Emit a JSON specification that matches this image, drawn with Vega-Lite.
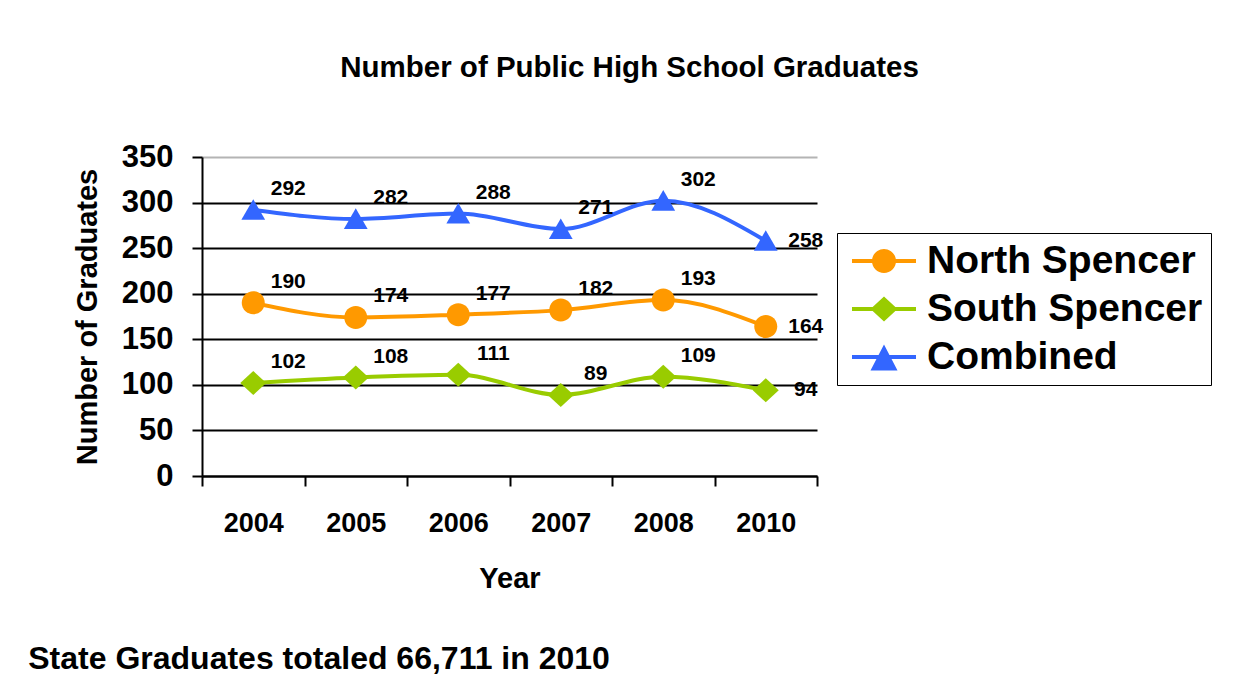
{
  "$schema": "https://vega.github.io/schema/vega-lite/v6.json",
  "padding": {"left": 28, "top": 52, "right": 0, "bottom": 0},
  "background": "white",
  "config": {"font": "Liberation Sans", "view": {"stroke": null}},
  "title": {"text": "State Graduates totaled 66,711 in 2010", "orient": "bottom", "anchor": "start", "frame": "bounds", "fontSize": 32, "fontWeight": "bold", "color": "black", "offset": 51, "dx": -45},
  "vconcat": [
    {
      "width": 615,
      "height": 319,
      "title": {"text": "Number of Public High School Graduates", "fontSize": 29.5, "fontWeight": "bold", "anchor": "middle", "frame": "group", "dx": 120, "offset": 58, "color": "black"},
      "data": {"values": [
        {"Year": "2004", "Series": "North Spencer", "Graduates": 190},
        {"Year": "2005", "Series": "North Spencer", "Graduates": 174},
        {"Year": "2006", "Series": "North Spencer", "Graduates": 177},
        {"Year": "2007", "Series": "North Spencer", "Graduates": 182},
        {"Year": "2008", "Series": "North Spencer", "Graduates": 193},
        {"Year": "2010", "Series": "North Spencer", "Graduates": 164},
        {"Year": "2004", "Series": "South Spencer", "Graduates": 102},
        {"Year": "2005", "Series": "South Spencer", "Graduates": 108},
        {"Year": "2006", "Series": "South Spencer", "Graduates": 111},
        {"Year": "2007", "Series": "South Spencer", "Graduates": 89},
        {"Year": "2008", "Series": "South Spencer", "Graduates": 109},
        {"Year": "2010", "Series": "South Spencer", "Graduates": 94},
        {"Year": "2004", "Series": "Combined", "Graduates": 292},
        {"Year": "2005", "Series": "Combined", "Graduates": 282},
        {"Year": "2006", "Series": "Combined", "Graduates": 288},
        {"Year": "2007", "Series": "Combined", "Graduates": 271},
        {"Year": "2008", "Series": "Combined", "Graduates": 302},
        {"Year": "2010", "Series": "Combined", "Graduates": 258}
      ]},
      "encoding": {
        "x": {
          "field": "Year", "type": "ordinal", "bandPosition": 0.5,
          "scale": {"type": "band", "paddingInner": 0, "paddingOuter": 0},
          "axis": {"title": "Year", "labelAngle": 0, "tickBand": "extent", "labelFontSize": 27, "labelFontWeight": "bold", "labelColor": "black", "labelPadding": 24, "tickSize": 10, "tickColor": "black", "tickWidth": 2, "domainColor": "black", "domainWidth": 2, "grid": false, "titleFontSize": 29, "titleFontWeight": "bold", "titleColor": "black", "titlePadding": 28}
        },
        "y": {
          "field": "Graduates", "type": "quantitative",
          "scale": {"domain": [0, 350]},
          "axis": {"values": [0, 50, 100, 150, 200, 250, 300, 350], "title": "Number of Graduates", "titleFontSize": 29, "titleFontWeight": "bold", "titleColor": "black", "titlePadding": 19, "labelFontSize": 31, "labelFontWeight": "bold", "labelColor": "black", "labelPadding": 19, "tickSize": 10, "tickColor": "black", "tickWidth": 2, "domainColor": "black", "domainWidth": 2, "grid": true, "gridColor": {"condition": {"test": "datum.value === 350", "value": "#b4b4b4"}, "value": "black"}, "gridWidth": 2, "gridOpacity": 1}
        }
      },
      "layer": [
        {
          "mark": {"type": "line", "interpolate": "monotone", "strokeWidth": 4},
          "encoding": {
            "color": {"field": "Series", "type": "nominal", "scale": {"domain": ["North Spencer", "South Spencer", "Combined"], "range": ["#FF9900", "#99CC00", "#3366FF"]}, "legend": null}
          }
        },
        {
          "mark": {"type": "point", "filled": true, "opacity": 1, "size": 625, "strokeWidth": 0},
          "encoding": {
            "color": {"field": "Series", "type": "nominal", "scale": {"domain": ["North Spencer", "South Spencer", "Combined"], "range": ["#FF9900", "#99CC00", "#3366FF"]}, "legend": null},
            "shape": {"field": "Series", "type": "nominal", "scale": {"domain": ["North Spencer", "South Spencer", "Combined"], "range": ["M-0.92,0A0.92,0.92 0 1,1 0.92,0A0.92,0.92 0 1,1 -0.92,0Z", "M-1.04,0L0,-0.96L1.04,0L0,0.96Z", "M0,-0.85L0.95,0.8L-0.95,0.8Z"]}, "legend": null}
          }
        },
        {
          "transform": [{"filter": "datum.Year !== '2010'"}],
          "mark": {"type": "text", "fontSize": 21, "fontWeight": "bold", "color": "black", "dx": 35, "dy": -21, "align": "center", "baseline": "middle"},
          "encoding": {"text": {"field": "Graduates", "type": "quantitative"}}
        },
        {
          "transform": [{"filter": "datum.Year === '2010'"}],
          "mark": {"type": "text", "fontSize": 21, "fontWeight": "bold", "color": "black", "dx": 40, "dy": 0, "align": "center", "baseline": "middle"},
          "encoding": {"text": {"field": "Graduates", "type": "quantitative"}}
        },
        {
          "transform": [{"filter": "false"}],
          "mark": {"type": "point", "filled": true, "opacity": 1, "size": 1600, "strokeWidth": 0},
          "encoding": {
            "color": {"field": "Series", "type": "nominal", "scale": {"domain": ["North Spencer", "South Spencer", "Combined"], "range": ["#FF9900", "#99CC00", "#3366FF"]},
              "legend": {"title": null, "orient": "none", "legendX": 635, "legendY": 76, "labelFontSize": 39, "labelFontWeight": "bold", "labelColor": "black", "labelLimit": 0, "symbolSize": 1600, "symbolStrokeWidth": 0, "symbolOpacity": 1, "symbolOffset": 19, "labelOffset": 23, "rowPadding": 8, "padding": 8, "strokeColor": "black"}},
            "shape": {"field": "Series", "type": "nominal", "scale": {"domain": ["North Spencer", "South Spencer", "Combined"], "range": ["M-1.6,-0.1H1.6V0.1H-1.6ZM-0.6,0A0.6,0.6 0 1,1 0.6,0A0.6,0.6 0 1,1 -0.6,0Z", "M-1.6,-0.1H1.6V0.1H-1.6ZM-0.675,0L0,-0.625L0.675,0L0,0.625Z", "M-1.6,-0.1H1.6V0.1H-1.6ZM0,-0.62L0.675,0.68L-0.675,0.68Z"]},
              "legend": {"title": null, "orient": "none", "legendX": 635, "legendY": 76, "labelFontSize": 39, "labelFontWeight": "bold", "labelColor": "black", "labelLimit": 0, "symbolSize": 1600, "symbolStrokeWidth": 0, "symbolOpacity": 1, "symbolOffset": 19, "labelOffset": 23, "rowPadding": 8, "padding": 8, "strokeColor": "black"}}
          }
        }
      ],
      "resolve": {"scale": {"color": "independent", "shape": "independent"}}
    }
  ]
}
